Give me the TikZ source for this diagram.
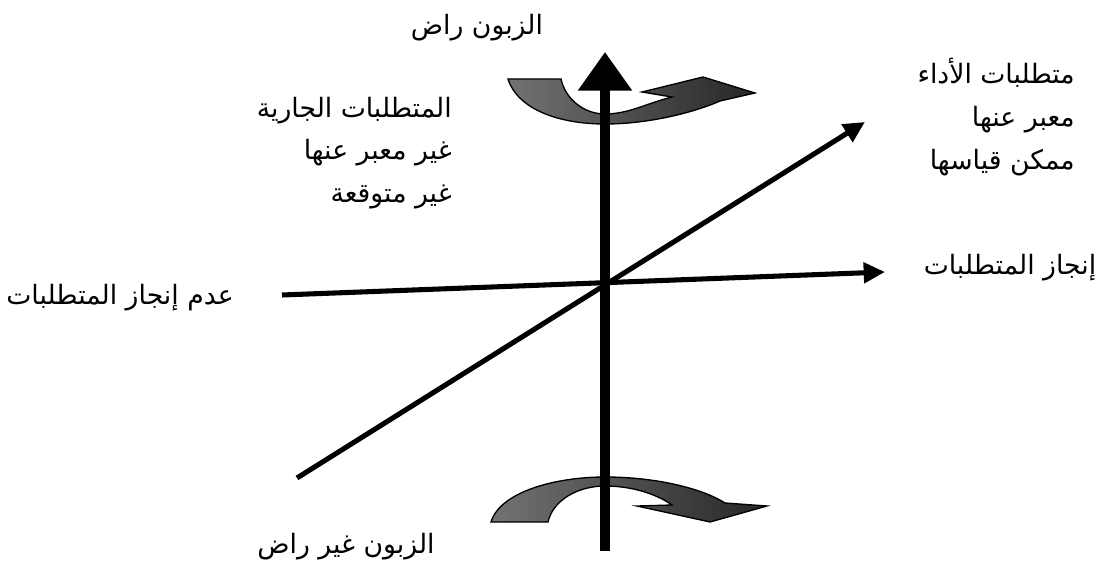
\documentclass[tikz,border=0pt]{standalone}
\usepackage{fontspec}
\usetikzlibrary{arrows.meta}
\TeXXeTstate=1
\newfontfamily\arabicfont[Script=Arabic]{DejaVu Sans}
\begin{document}
\begin{tikzpicture}[x=0.75pt,y=-0.75pt,
  lbl/.style={font=\arabicfont\fontsize{20}{32}\selectfont, inner sep=0pt},
  block/.style={lbl, align=right, anchor=east},
  axisline/.style={line width=3.8pt, -{Triangle[width=15pt,length=16pt]}},
  vaxis/.style={line width=6.8pt, -{Triangle[width=39pt,length=29pt]}},
  curvearrow/.style={draw=black, line width=1pt, left color=black!55, right color=black!85}
]
\useasboundingbox (0,0) rectangle (1103,563);
% coordinates
\coordinate (vbot) at (605,551);
\coordinate (vtop) at (605,52);
\coordinate (hl) at (282,295);
\coordinate (hr) at (885,272);
\coordinate (dl) at (297,478);
\coordinate (dr) at (865,122);
% curved arrows
\path[curvearrow] (508,79) .. controls (518,110) and (560,124) .. (605,124)
  .. controls (650,124) and (695,112) .. (720,101)
  -- (755,93) -- (703,77) -- (642,92) -- (672,97)
  .. controls (645,104) and (628,114) .. (605,114)
  .. controls (583,114) and (565,98) .. (561,79) -- cycle;
\path[curvearrow] (491,522) .. controls (500,492) and (555,477) .. (605,477)
  .. controls (660,477) and (705,490) .. (725,503)
  -- (767,506) -- (710,522) -- (637,506) -- (672,505)
  .. controls (655,493) and (630,486) .. (605,486)
  .. controls (578,486) and (553,500) .. (548,522) -- cycle;
% axes
\draw[axisline] (hl) -- (hr);
\draw[axisline] (dl) -- (dr);
\draw[vaxis] (vbot) -- (vtop);
% labels
\node[lbl] (satisfied) at (477,28) {\beginR الزبون راض\endR};
\node[lbl] (unsatisfied) at (346,547) {\beginR الزبون غير راض\endR};
\node[lbl] (achieve) at (1010,268) {\beginR إنجاز المتطلبات\endR};
\node[lbl] (notachieve) at (120,298) {\beginR عدم إنجاز المتطلبات\endR};
\node[block] (current) at (452,153) {\beginR المتطلبات الجارية\endR\\ \beginR غير معبر عنها\endR\\ \beginR غير متوقعة\endR};
\node[block] (performance) at (1075,117) {\beginR متطلبات الأداء\endR\\ \beginR معبر عنها\endR\\ \beginR ممكن قياسها\endR};
\end{tikzpicture}
\end{document}
